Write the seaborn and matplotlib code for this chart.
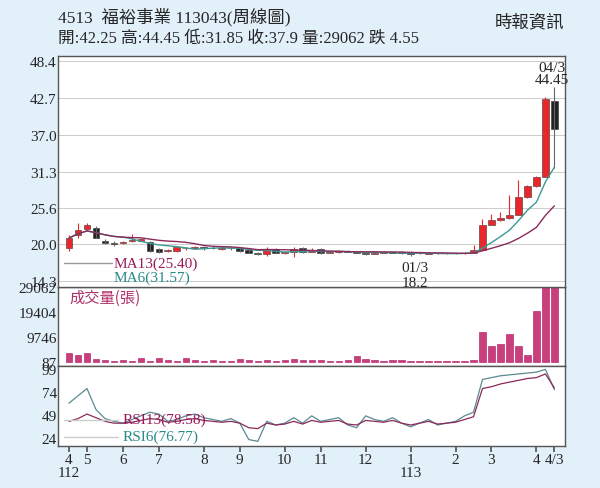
import numpy as np, pandas as pd
import matplotlib
matplotlib.use("Agg")
import matplotlib.pyplot as plt
import seaborn as sns

opens  = [19.5,21.5,22.4,22.6,20.6,20.3,20.2,20.5,20.6,20.4,19.3,19.0,19.0,19.4,19.4,19.6,19.5,19.3,19.5,19.4,19.1,18.7,18.5,19.3,18.6,18.8,19.4,18.9,19.3,18.7,18.8,19.0,18.9,18.7,18.5,18.7,18.8,18.9,18.9,18.6,18.5,18.6,18.6,18.6,18.6,18.6,19.2,23.0,23.8,24.1,24.6,27.4,29.0,30.5,42.25]
closes = [21.0,22.3,23.0,21.0,20.2,20.0,20.4,20.6,20.8,19.0,18.8,19.2,19.6,19.4,19.6,19.4,19.4,19.5,19.4,19.0,18.7,18.5,19.3,18.7,18.8,19.3,18.8,19.2,18.6,18.8,19.0,18.9,18.7,18.5,18.7,18.9,18.7,18.6,18.5,18.6,18.6,18.6,18.6,18.6,18.6,19.2,23.0,23.8,24.1,24.6,27.4,29.0,30.5,42.6,37.9]
highs  = [21.5,23.3,23.4,22.8,20.8,20.5,20.6,21.6,21.0,20.5,19.4,19.3,19.7,19.6,19.8,19.7,19.7,19.6,19.6,19.5,19.2,18.8,19.6,19.4,18.9,19.6,19.6,19.5,19.5,18.9,19.1,19.1,19.0,18.8,18.9,19.0,19.0,19.0,19.0,18.7,18.7,18.7,18.7,18.7,18.8,19.9,24.0,24.8,25.0,27.6,30.0,29.3,30.6,42.8,44.45]
lows   = [19.0,21.0,22.2,21.0,20.0,19.8,20.0,20.4,20.5,18.9,18.7,18.9,18.9,19.2,19.3,19.2,19.3,19.2,19.2,18.9,18.6,18.4,18.2,18.6,18.5,18.1,18.7,18.8,18.5,18.6,18.7,18.8,18.6,18.4,18.5,18.6,18.6,18.5,18.2,18.5,18.5,18.5,18.5,18.5,18.5,18.6,19.6,23.3,23.7,24.0,24.5,27.2,28.9,30.4,31.85]
volumes = [3600,2800,3400,1200,600,500,600,300,1700,300,1500,700,300,1400,700,500,600,300,500,1000,600,400,700,300,800,1000,600,600,800,300,500,700,2400,1000,600,400,700,600,400,300,500,300,300,300,300,600,11500,6000,7000,11000,6000,2800,19800,29062,29062]
rsi6  = [62,70,78,55,45,42,40,44,48,52,50,42,44,48,50,46,44,42,45,40,22,20,42,38,40,46,40,48,42,44,46,38,35,48,44,42,46,40,36,40,44,38,40,42,48,52,88,90,92,93,94,95,96,99,76.77]
rsi13 = [42,45,50,46,42,40,40,41,43,45,44,41,42,44,45,43,42,41,42,40,35,34,40,38,39,42,39,43,41,42,43,39,38,43,42,41,43,40,38,40,42,39,40,41,44,47,78,80,83,85,87,89,90,94,78.58]
month_pos = [0,2,6,10,15,19,24,28,33,38,43,47,52,54]
month_lab = ["4\n112","5","6","7","8","9","10","11","12","1\n113","2","3","4","4/3"]

df = pd.DataFrame(dict(o=opens,c=closes,h=highs,l=lows,v=volumes,r6=rsi6,r13=rsi13))
df["i"] = np.arange(len(df))
df["ma6"] = df.c.rolling(6, min_periods=1).mean()
df["ma13"] = df.c.rolling(13, min_periods=1).mean()

sns.set_theme(style="white")
plt.rcParams['font.family'] = ['Liberation Serif', 'Noto Sans CJK TC', 'DejaVu Sans']
bg = "#e2f0fa"
fig = plt.figure(figsize=(6, 4.89), dpi=100, facecolor=bg)
L, W = 0.097, 0.845
ax1 = fig.add_axes([L, 0.411, W, 0.472])
ax2 = fig.add_axes([L, 0.25, W, 0.161], sharex=ax1)
ax3 = fig.add_axes([L, 0.086, W, 0.164], sharex=ax1)
ax1.set_zorder(5); ax1.patch.set_alpha(1)
red, blk = "#e8262c", "#222222"
for _, r in df.iterrows():
    col = red if r.c >= r.o else blk
    ax1.vlines(r.i, r.l, r.h, color="#666666" if col == blk else red, lw=0.8)
    ax1.bar(r.i, max(abs(r.c-r.o), 0.12), bottom=min(r.o, r.c), width=0.75, color=col, edgecolor="#333333", lw=0.4)
sns.lineplot(x=df.i, y=df.ma6, ax=ax1, color="#3a9a94", lw=1)
sns.lineplot(x=df.i, y=df.ma13, ax=ax1, color="#8a2a5a", lw=1)
ax1.set_ylim(13.4, 49.2)
ax1.set_yticks([14.3,20.0,25.6,31.3,37.0,42.7,48.4])
ax1.set_yticklabels(["14.3","20.0","25.6","31.3","37.0","42.7","48.4"])
ax1.grid(axis="y", color="#cccccc", lw=0.7)
ax1.text(5, 16.6, "MA13(25.40)", color="#9a1a5a", fontsize=11)
ax1.text(5, 14.3, "MA6(31.57)", color="#2a8a8a", fontsize=11)
ax1.plot([-0.5, 4.8], [17.2, 17.2], color="#999999", lw=1)
ax1.text(38.5, 15.9, "01/3", fontsize=11, ha="center")
ax1.text(38.5, 13.5, "18.2", fontsize=11, ha="center", clip_on=False, zorder=10)
ax1.text(53.7, 45.0, "04/3\n44.45", fontsize=11, ha="center", linespacing=0.9)

sns.barplot(x=df.i, y=df.v, ax=ax2, color="#e0287a", width=0.7, native_scale=True, edgecolor="#b01060", lw=0.4)
ax2.set_ylim(-1500, 29062)
ax2.set_yticks([87, 9746, 19404, 29062])
ax2.set_yticklabels(["87","9746","19404","29062"])
ax2.text(0, 23500, "成交量(張)", color="#b0306a", fontsize=11, family=['Noto Sans CJK TC'])

sns.lineplot(x=df.i, y=df.r6, ax=ax3, color="#5a8a90", lw=0.9)
sns.lineplot(x=df.i, y=df.r13, ax=ax3, color="#8a2a5a", lw=0.9)
ax3.set_ylim(15, 103)
ax3.set_yticks([24,49,74,99])
ax3.text(6, 40, "RSI13(78.58)", color="#9a1a5a", fontsize=11)
ax3.text(6, 22, "RSI6(76.77)", color="#2a8a8a", fontsize=11)
ax3.plot([-0.5, 5.5], [43, 43], color="#cccccc", lw=1)
ax3.plot([-0.5, 5.5], [25, 25], color="#cccccc", lw=1)
ax3.set_xticks(month_pos); ax3.set_xticklabels(month_lab, fontsize=11, va="top", linespacing=1.0)
ax3.set_xlim(-1.2, 55.2)
for a in (ax1, ax2, ax3):
    a.set_facecolor("white")
    a.set_xlabel(""); a.set_ylabel("")
    a.tick_params(axis="y", labelsize=11, pad=1, length=0)
    for s in a.spines.values():
        s.set_color("#555555"); s.set_linewidth(1)
for a in (ax1, ax2):
    a.tick_params(axis="x", labelbottom=False, length=0)
ax3.tick_params(axis="x", length=4, color="#555555", bottom=True, pad=1)

fig.text(0.097, 0.955, "4513  福裕事業 113043(周線圖)", fontsize=12.5, family=['Liberation Serif','Noto Sans CJK TC'])
fig.text(0.097, 0.913, "開:42.25 高:44.45 低:31.85 收:37.9 量:29062 跌 4.55", fontsize=12, family=['Liberation Serif','Noto Sans CJK TC'])
fig.text(0.94, 0.945, "時報資訊", fontsize=12.5, ha="right", family=['Noto Sans CJK TC'])
fig.savefig("out.png", dpi=100, facecolor=bg)
